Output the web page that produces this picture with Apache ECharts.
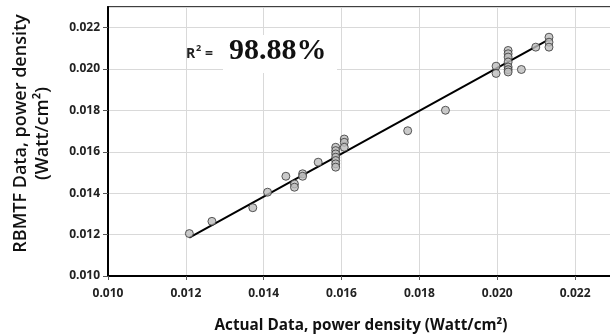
<!DOCTYPE html>
<html><head><meta charset="utf-8">
<script src="https://cdn.jsdelivr.net/npm/echarts@6/dist/echarts.min.js"></script>
<style>html,body{margin:0;padding:0;background:#fff}#c{width:610px;height:336px}</style>
</head><body><div id="c"></div>
<script>
const actual = [0.01209,0.01267,0.01372,0.01410,0.01457,0.01479,0.01479,0.01500,0.01500,0.01540,
 0.01585,0.01585,0.01585,0.01585,0.01585,0.01585,0.01585,
 0.01607,0.01607,0.01607,0.01770,0.01867,0.01997,0.01997,
 0.02028,0.02028,0.02028,0.02028,0.02028,0.02028,0.02028,
 0.02062,0.02099,0.02133,0.02133,0.02133];
const rbmtf = [0.01205,0.01264,0.01330,0.01405,0.01482,0.01445,0.01429,0.01494,0.01482,0.01550,
 0.01622,0.01606,0.01590,0.01574,0.01558,0.01542,0.01526,
 0.01662,0.01646,0.01622,0.01702,0.01801,0.02014,0.01979,
 0.02090,0.02074,0.02058,0.02034,0.02010,0.01997,0.01986,
 0.01998,0.02106,0.02154,0.02130,0.02106];
const trendX = [0.01209, 0.02133];
const trendY = [0.01186, 0.02143];
const tickLabels = ['0.010','0.012','0.014','0.016','0.018','0.020','0.022'];
const r2Text = '98.88%';

const chart = echarts.init(document.getElementById('c'));
const lab = {fontFamily:'Open Sans', fontWeight:'bold', fontSize:12, color:'#222'};
const fmt = v => { const s = v.toFixed(3); return tickLabels.indexOf(s) >= 0 ? s : ''; };
chart.setOption({
  animation:false,
  grid:{left:108, top:7, width:506, height:269, show:true, borderColor:'#000', borderWidth:1.5,
        backgroundColor:'#fff', containLabel:false, outerBoundsMode:'none'},
  xAxis:{type:'value', min:0.010, max:0.023, interval:0.002,
    axisLine:{show:true, lineStyle:{color:'#000', width:2}},
    axisTick:{show:true, inside:false, length:4, lineStyle:{color:'#555'}},
    splitLine:{show:true, lineStyle:{color:'#d9d9d9', width:1}},
    axisLabel:Object.assign({margin:12, formatter:fmt, showMaxLabel:false}, lab),
    name:'Actual Data, power density (Watt/cm²)', nameLocation:'middle', nameGap:42,
    nameTextStyle:{fontFamily:'Open Sans', fontWeight:'bold', fontSize:15.3, color:'#111'}},
  yAxis:{type:'value', min:0.010, max:0.023, interval:0.002,
    axisLine:{show:true, lineStyle:{color:'#000', width:2}},
    axisTick:{show:true, length:5, lineStyle:{color:'#555'}},
    splitLine:{show:true, lineStyle:{color:'#d9d9d9', width:1}},
    axisLabel:Object.assign({margin:8, formatter:fmt, showMaxLabel:false}, lab),
    name:'RBMTF Data, power density\n(Watt/cm²)', nameLocation:'middle', nameGap:54, nameRotate:90,
    nameTextStyle:{fontFamily:'Open Sans', fontWeight:'600', fontSize:18, color:'#111', lineHeight:22, padding:[0,0,0,16]}},
  series:[
    {type:'line', data:trendX.map((x,i)=>[x,trendY[i]]), symbol:'none', lineStyle:{color:'#000', width:2}, z:3},
    {type:'scatter', data:actual.map((x,i)=>[x,rbmtf[i]]), symbol:'circle', symbolSize:8,
     itemStyle:{color:'#bdbdbd', borderColor:'#333', borderWidth:1}, z:4}
  ],
  graphic:[
    {type:'rect', left:223, top:35, shape:{width:114, height:38}, style:{fill:'#fff'}, z:10},
    {type:'text', left:186, top:47, style:{text:'R', font:'bold 14px "Open Sans"', fill:'#222'}, z:11},
    {type:'text', left:196, top:44, style:{text:'2', font:'bold 9px "Open Sans"', fill:'#222'}, z:11},
    {type:'text', left:205, top:47, style:{text:'=', font:'bold 14px "Open Sans"', fill:'#222'}, z:11},
    {type:'text', left:229, top:36, style:{text:r2Text, font:'bold 30px "Liberation Serif"', fill:'#111'}, z:11}
  ]
});
</script></body></html>
